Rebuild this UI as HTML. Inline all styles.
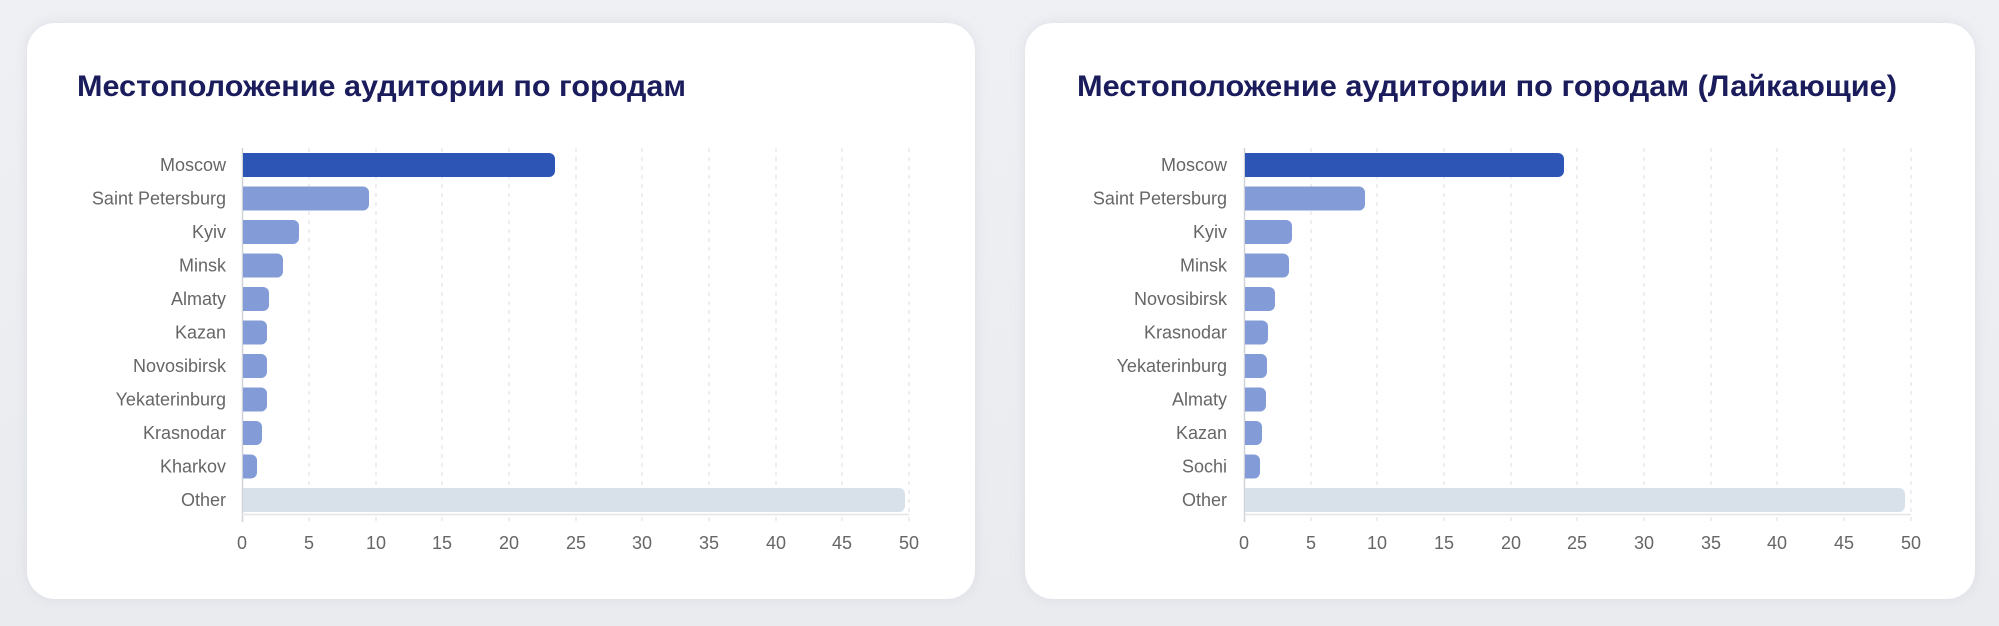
<!DOCTYPE html>
<html><head><meta charset="utf-8"><style>
html,body{margin:0;padding:0;background:#eceef2;}
svg{display:block}
text{font-family:"Liberation Sans","Noto Sans CJK SC",sans-serif}
</style></head><body>
<svg width="1999" height="626" viewBox="0 0 1999 626" xmlns="http://www.w3.org/2000/svg">
<defs>
<linearGradient id="bg" x1="0" y1="0" x2="0" y2="1"><stop offset="0" stop-color="#eff0f4"/><stop offset="1" stop-color="#e9ebef"/></linearGradient>
<filter id="sh" x="-5%" y="-5%" width="110%" height="110%"><feDropShadow dx="0" dy="0" stdDeviation="6" flood-color="#c8ccd6" flood-opacity="0.5"/></filter>
</defs>
<rect width="1999" height="626" fill="url(#bg)"/>
<g id="c1">
<rect x="27" y="23" width="948" height="576" rx="28" fill="#fff" filter="url(#sh)"/>
<text x="77" y="96" font-size="30" font-weight="bold" fill="#1a1c5c" textLength="609" lengthAdjust="spacingAndGlyphs">Местоположение аудитории по городам</text>
<g stroke="#dcdde2" stroke-width="1" stroke-dasharray="4,5">
<line x1="309" y1="148" x2="309" y2="522"/><line x1="376" y1="148" x2="376" y2="522"/><line x1="442" y1="148" x2="442" y2="522"/><line x1="509" y1="148" x2="509" y2="522"/><line x1="576" y1="148" x2="576" y2="522"/><line x1="642" y1="148" x2="642" y2="522"/><line x1="709" y1="148" x2="709" y2="522"/><line x1="776" y1="148" x2="776" y2="522"/><line x1="842" y1="148" x2="842" y2="522"/><line x1="909" y1="148" x2="909" y2="522"/>
</g>
<line x1="242.5" y1="148" x2="242.5" y2="522" stroke="#d0d2d8" stroke-width="1.5"/>
<line x1="242" y1="514.5" x2="909" y2="514.5" stroke="#e2e4e8" stroke-width="1.5"/>
<g font-size="18" fill="#666" text-anchor="end">
<text x="226" y="171">Moscow</text><text x="226" y="204.5">Saint Petersburg</text><text x="226" y="238">Kyiv</text><text x="226" y="271.5">Minsk</text><text x="226" y="305">Almaty</text><text x="226" y="338.5">Kazan</text><text x="226" y="372">Novosibirsk</text><text x="226" y="405.5">Yekaterinburg</text><text x="226" y="439">Krasnodar</text><text x="226" y="472.5">Kharkov</text><text x="226" y="506">Other</text>
</g>
<path d="M243 153 H549 a6 6 0 0 1 6 6 V171 a6 6 0 0 1 -6 6 H243 Z" fill="#2d55b5"/>
<g fill="#839bd7">
<path d="M243 186.5 H363 a6 6 0 0 1 6 6 V204.5 a6 6 0 0 1 -6 6 H243 Z"/>
<path d="M243 220 H293 a6 6 0 0 1 6 6 V238 a6 6 0 0 1 -6 6 H243 Z"/>
<path d="M243 253.5 H277 a6 6 0 0 1 6 6 V271.5 a6 6 0 0 1 -6 6 H243 Z"/>
<path d="M243 287 H263 a6 6 0 0 1 6 6 V305 a6 6 0 0 1 -6 6 H243 Z"/>
<path d="M243 320.5 H261 a6 6 0 0 1 6 6 V338.5 a6 6 0 0 1 -6 6 H243 Z"/>
<path d="M243 354 H261 a6 6 0 0 1 6 6 V372 a6 6 0 0 1 -6 6 H243 Z"/>
<path d="M243 387.5 H261 a6 6 0 0 1 6 6 V405.5 a6 6 0 0 1 -6 6 H243 Z"/>
<path d="M243 421 H256 a6 6 0 0 1 6 6 V439 a6 6 0 0 1 -6 6 H243 Z"/>
<path d="M243 454.5 H251 a6 6 0 0 1 6 6 V472.5 a6 6 0 0 1 -6 6 H243 Z"/>
</g>
<path d="M243 488 H899 a6 6 0 0 1 6 6 V506 a6 6 0 0 1 -6 6 H243 Z" fill="#d8e0ea"/>
<g font-size="18" fill="#666" text-anchor="middle">
<text x="242" y="549">0</text><text x="309" y="549">5</text><text x="376" y="549">10</text><text x="442" y="549">15</text><text x="509" y="549">20</text><text x="576" y="549">25</text><text x="642" y="549">30</text><text x="709" y="549">35</text><text x="776" y="549">40</text><text x="842" y="549">45</text><text x="909" y="549">50</text>
</g>
</g>
<g id="c2">
<rect x="1025" y="23" width="950" height="576" rx="28" fill="#fff" filter="url(#sh)"/>
<text x="1077" y="96" font-size="30" font-weight="bold" fill="#1a1c5c" textLength="820" lengthAdjust="spacingAndGlyphs">Местоположение аудитории по городам (Лайкающие)</text>
<g stroke="#dcdde2" stroke-width="1" stroke-dasharray="4,5">
<line x1="1311" y1="148" x2="1311" y2="522"/><line x1="1377" y1="148" x2="1377" y2="522"/><line x1="1444" y1="148" x2="1444" y2="522"/><line x1="1511" y1="148" x2="1511" y2="522"/><line x1="1577" y1="148" x2="1577" y2="522"/><line x1="1644" y1="148" x2="1644" y2="522"/><line x1="1711" y1="148" x2="1711" y2="522"/><line x1="1777" y1="148" x2="1777" y2="522"/><line x1="1844" y1="148" x2="1844" y2="522"/><line x1="1911" y1="148" x2="1911" y2="522"/>
</g>
<line x1="1244.5" y1="148" x2="1244.5" y2="522" stroke="#d0d2d8" stroke-width="1.5"/>
<line x1="1244" y1="514.5" x2="1911" y2="514.5" stroke="#e2e4e8" stroke-width="1.5"/>
<g font-size="18" fill="#666" text-anchor="end">
<text x="1227" y="171">Moscow</text><text x="1227" y="204.5">Saint Petersburg</text><text x="1227" y="238">Kyiv</text><text x="1227" y="271.5">Minsk</text><text x="1227" y="305">Novosibirsk</text><text x="1227" y="338.5">Krasnodar</text><text x="1227" y="372">Yekaterinburg</text><text x="1227" y="405.5">Almaty</text><text x="1227" y="439">Kazan</text><text x="1227" y="472.5">Sochi</text><text x="1227" y="506">Other</text>
</g>
<path d="M1245 153 H1558 a6 6 0 0 1 6 6 V171 a6 6 0 0 1 -6 6 H1245 Z" fill="#2d55b5"/>
<g fill="#839bd7">
<path d="M1245 186.5 H1359 a6 6 0 0 1 6 6 V204.5 a6 6 0 0 1 -6 6 H1245 Z"/>
<path d="M1245 220 H1286 a6 6 0 0 1 6 6 V238 a6 6 0 0 1 -6 6 H1245 Z"/>
<path d="M1245 253.5 H1283 a6 6 0 0 1 6 6 V271.5 a6 6 0 0 1 -6 6 H1245 Z"/>
<path d="M1245 287 H1269 a6 6 0 0 1 6 6 V305 a6 6 0 0 1 -6 6 H1245 Z"/>
<path d="M1245 320.5 H1262 a6 6 0 0 1 6 6 V338.5 a6 6 0 0 1 -6 6 H1245 Z"/>
<path d="M1245 354 H1261 a6 6 0 0 1 6 6 V372 a6 6 0 0 1 -6 6 H1245 Z"/>
<path d="M1245 387.5 H1260 a6 6 0 0 1 6 6 V405.5 a6 6 0 0 1 -6 6 H1245 Z"/>
<path d="M1245 421 H1256 a6 6 0 0 1 6 6 V439 a6 6 0 0 1 -6 6 H1245 Z"/>
<path d="M1245 454.5 H1254 a6 6 0 0 1 6 6 V472.5 a6 6 0 0 1 -6 6 H1245 Z"/>
</g>
<path d="M1245 488 H1899 a6 6 0 0 1 6 6 V506 a6 6 0 0 1 -6 6 H1245 Z" fill="#d8e0ea"/>
<g font-size="18" fill="#666" text-anchor="middle">
<text x="1244" y="549">0</text><text x="1311" y="549">5</text><text x="1377" y="549">10</text><text x="1444" y="549">15</text><text x="1511" y="549">20</text><text x="1577" y="549">25</text><text x="1644" y="549">30</text><text x="1711" y="549">35</text><text x="1777" y="549">40</text><text x="1844" y="549">45</text><text x="1911" y="549">50</text>
</g>
</g>
</svg>
</body></html>
